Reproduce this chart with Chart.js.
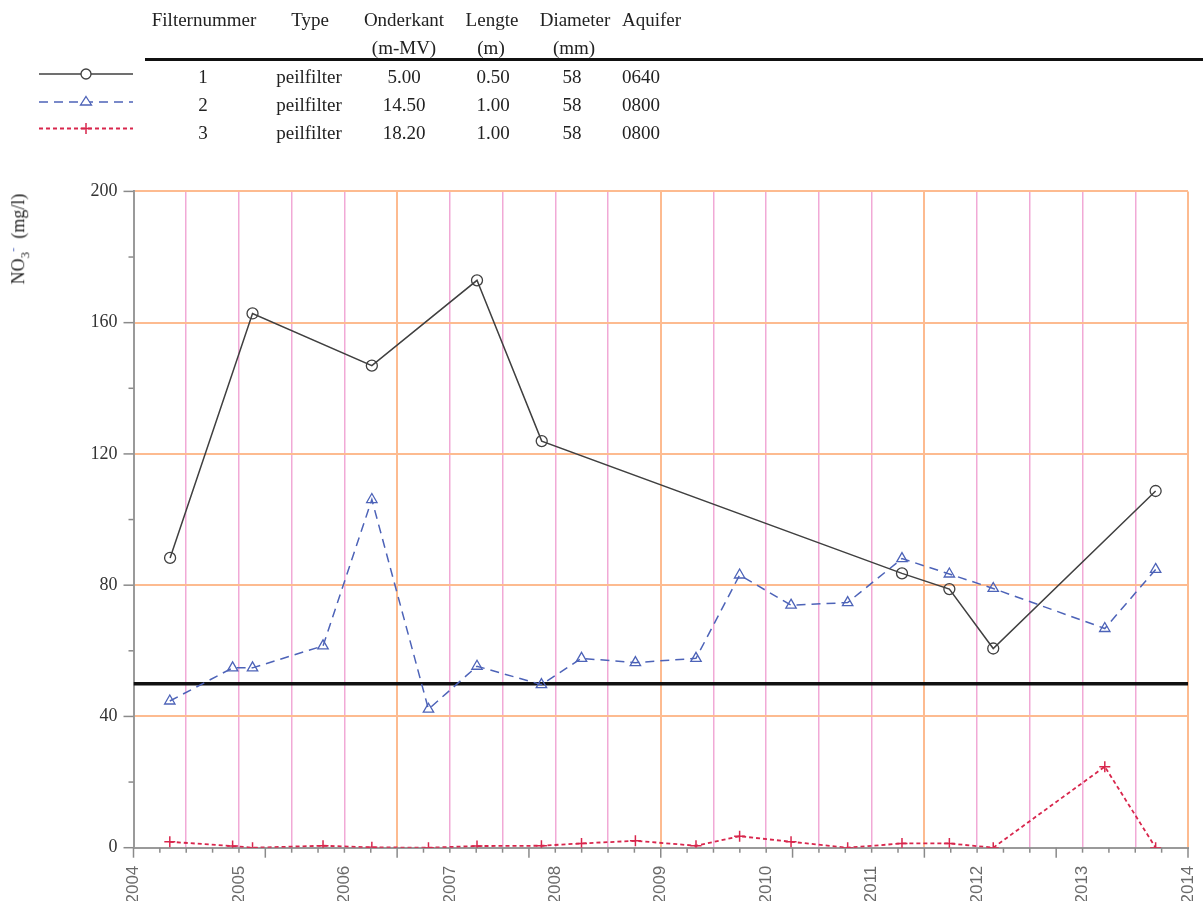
<!DOCTYPE html>
<html>
<head>
<meta charset="utf-8">
<title>NO3 peilfilters</title>
<script src="https://cdn.jsdelivr.net/npm/chart.js@4.4.1/dist/chart.umd.min.js"></script>
<style>
  html, body { margin: 0; padding: 0; background: #fff; }
  #wrap { position: relative; width: 1203px; height: 901px; overflow: hidden; }
  #chart { position: absolute; left: 0; top: 0; }
  .t { position: absolute; font-family: "Liberation Serif", "Times New Roman", serif; font-size: 19px;
       color: #222; white-space: nowrap; line-height: 20px; transform: translateX(-50%); }
  .t.left { transform: none; }
  #rule { position: absolute; left: 145px; top: 58px; width: 1058px; height: 3px; background: #111; }
  #ytitle { position: absolute; left: 19px; top: 239px; font-family: "Liberation Serif", "Times New Roman", serif;
            font-size: 18px; color: #222; white-space: nowrap; transform: translate(-50%, -50%) rotate(-90deg); }
  #ytitle sub { font-size: 13px; }
  #ytitle sup { color: #5a6fc0; font-size: 13px; }
  #legend { position: absolute; left: 0; top: 0; }
</style>
</head>
<body>
<div id="wrap">
  <canvas id="chart" width="1203" height="901"></canvas>
  <svg id="legend" width="140" height="150"></svg>
  <div id="rule"></div>
  <div id="ytitle">NO<sub>3</sub><sup>-</sup>&nbsp;&nbsp;(mg/l)</div>
</div>
<script>
// Sampling dates per filter
const datesFilter1 = ['2004-05-07', '2005-02-17', '2006-04-06', '2007-04-05', '2007-11-15',
                      '2011-04-16', '2011-09-27', '2012-02-26', '2013-09-11'];
const datesFilter23 = ['2004-05-06', '2004-12-10', '2005-02-17', '2005-10-19', '2006-04-06',
                       '2006-10-19', '2007-04-05', '2007-11-14', '2008-04-01', '2008-10-05',
                       '2009-05-03', '2009-10-01', '2010-03-28', '2010-10-10', '2011-04-16',
                       '2011-09-27', '2012-02-26', '2013-03-19', '2013-09-11'];

// Nitrate (mg/l) per filter
const no3Filter1 = [88.3, 162.8, 146.9, 172.9, 123.9, 83.6, 78.8, 60.7, 108.7];
const no3Filter2 = [44.7, 54.8, 54.8, 61.5, 106.1, 42.2, 55.3, 49.7, 57.7, 56.4,
                    57.7, 83.1, 73.9, 74.7, 88.1, 83.4, 79.0, 66.8, 84.8];
const no3Filter3 = [1.8, 0.5, 0.0, 0.6, 0.1, 0.0, 0.5, 0.6, 1.3, 2.1,
                    0.6, 3.5, 1.8, 0.0, 1.3, 1.3, 0.0, 24.7, 0.0];

// Nitrate standard
const no3Norm = 50;

// Axis settings
const yearLabels = [2004, 2005, 2006, 2007, 2008, 2009, 2010, 2011, 2012, 2013, 2014];
const yTickLabels = [0, 40, 80, 120, 160, 200];

// Filter table
const tableHeads = [
  { text: 'Filternummer', x: 204 }, { text: 'Type', x: 310 }, { text: 'Onderkant', x: 404 },
  { text: 'Lengte', x: 492 }, { text: 'Diameter', x: 575 }, { text: 'Aquifer', x: 622, left: true }
];
const tableUnits = [{ text: '(m-MV)', x: 404 }, { text: '(m)', x: 491 }, { text: '(mm)', x: 574 }];
const filterNr = ['1', '2', '3'];
const filterType = ['peilfilter', 'peilfilter', 'peilfilter'];
const filterBottom = ['5.00', '14.50', '18.20'];
const filterLength = ['0.50', '1.00', '1.00'];
const filterDiameter = ['58', '58', '58'];
const filterAquifer = ['0640', '0800', '0800'];

const colors = { f1: '#404040', f2: '#4d63b8', f3: '#d8264c',
                 orange: '#fdbb90', pink: '#f1a9d6', axis: '#9a9a9a' };

function toYear(s) {
  const d = new Date(s + 'T00:00:00Z');
  const y = d.getUTCFullYear();
  const start = Date.UTC(y, 0, 1), end = Date.UTC(y + 1, 0, 1);
  return y + (d.getTime() - start) / (end - start);
}
const pts = (dates, vals) => dates.map((d, i) => ({ x: toYear(d), y: vals[i] }));

// ---- table and legend text ----
const wrap = document.getElementById('wrap');
function addText(text, x, y, left) {
  const el = document.createElement('div');
  el.className = 't' + (left ? ' left' : '');
  el.textContent = text;
  el.style.left = x + 'px';
  el.style.top = (y - 10) + 'px';
  wrap.appendChild(el);
}
tableHeads.forEach(h => addText(h.text, h.x, 20, h.left));
tableUnits.forEach(h => addText(h.text, h.x, 48));
const rowY = [77, 105, 133];
filterNr.forEach((n, i) => {
  addText(n, 203, rowY[i]);
  addText(filterType[i], 309, rowY[i]);
  addText(filterBottom[i], 404, rowY[i]);
  addText(filterLength[i], 493, rowY[i]);
  addText(filterDiameter[i], 572, rowY[i]);
  addText(filterAquifer[i], 622, rowY[i], true);
});

// legend samples
const svg = document.getElementById('legend');
svg.innerHTML =
  `<line x1="39" y1="74" x2="133" y2="74" stroke="${colors.f1}" stroke-width="1.5"/>` +
  `<circle cx="86" cy="74" r="5" fill="#fff" stroke="${colors.f1}" stroke-width="1.3"/>` +
  `<line x1="39" y1="102" x2="133" y2="102" stroke="${colors.f2}" stroke-width="1.5" stroke-dasharray="9 6"/>` +
  `<path d="M86 96.5 L91.5 105 L80.5 105 Z" fill="#fff" stroke="${colors.f2}" stroke-width="1.3"/>` +
  `<line x1="39" y1="128.5" x2="133" y2="128.5" stroke="${colors.f3}" stroke-width="1.8" stroke-dasharray="4 3"/>` +
  `<path d="M80.5 128.5 H91.5 M86 123 V134" stroke="${colors.f3}" stroke-width="1.5"/>`;

// ---- axis tick marks (major/minor lengths differ) ----
const near = (a, step) => Math.abs(a / step - Math.round(a / step)) < 1e-6;
const axisTicks = {
  id: 'axisTicks',
  afterDraw(chart) {
    const { ctx, chartArea, scales } = chart;
    ctx.save();
    ctx.strokeStyle = '#8a8a8a';
    ctx.lineWidth = 1.5;
    scales.x.ticks.forEach(t => {
      const px = scales.x.getPixelForValue(t.value);
      const len = near(t.value - 2004, 1.25) ? 10 : 5;
      ctx.beginPath();
      ctx.moveTo(px, chartArea.bottom);
      ctx.lineTo(px, chartArea.bottom + len);
      ctx.stroke();
    });
    scales.y.ticks.forEach(t => {
      const py = scales.y.getPixelForValue(t.value);
      const len = yTickLabels.includes(t.value) ? 10 : 5;
      ctx.beginPath();
      ctx.moveTo(chartArea.left - len, py);
      ctx.lineTo(chartArea.left, py);
      ctx.stroke();
    });
    ctx.restore();
  }
};

new Chart(document.getElementById('chart'), {
  type: 'line',
  data: {
    datasets: [
      {
        label: 'Filter 1',
        data: pts(datesFilter1, no3Filter1),
        borderColor: colors.f1, borderWidth: 1.5,
        pointStyle: 'circle', pointRadius: 5.5, pointBorderWidth: 1.3,
        pointBorderColor: colors.f1, pointBackgroundColor: 'rgba(255,255,255,0)'
      },
      {
        label: 'Filter 2',
        data: pts(datesFilter23, no3Filter2),
        borderColor: colors.f2, borderWidth: 1.5, borderDash: [9, 6],
        pointStyle: 'triangle', pointRadius: 6, pointBorderWidth: 1.3,
        pointBorderColor: colors.f2, pointBackgroundColor: 'rgba(255,255,255,0)'
      },
      {
        label: 'Filter 3',
        data: pts(datesFilter23, no3Filter3),
        borderColor: colors.f3, borderWidth: 1.8, borderDash: [4, 3],
        pointStyle: 'cross', pointRadius: 5.5, pointBorderWidth: 1.5,
        pointBorderColor: colors.f3
      },
      {
        label: 'Norm',
        data: [{ x: yearLabels[0], y: no3Norm }, { x: yearLabels[yearLabels.length - 1], y: no3Norm }],
        borderColor: '#111', borderWidth: 3.5, pointRadius: 0
      }
    ]
  },
  options: {
    responsive: false,
    animation: false,
    devicePixelRatio: 1,
    layout: { padding: { left: 0, top: 191.4, right: 15, bottom: 0 } },
    plugins: { legend: { display: false }, tooltip: { enabled: false } },
    scales: {
      x: {
        type: 'linear',
        min: yearLabels[0], max: yearLabels[yearLabels.length - 1],
        afterBuildTicks: (scale) => {
          const t = [];
          for (let v = scale.min; v <= scale.max + 1e-9; v += 0.25) t.push({ value: v });
          scale.ticks = t;
        },
        afterFit: (scale) => {
          scale.height = 901 - 847.7;
          scale.paddingLeft = 0;
          scale.paddingRight = 0;
        },
        border: { color: colors.axis, width: 2 },
        grid: {
          drawTicks: false,
          color: (c) => {
            const d = c.tick.value - 2004;
            if (d <= 1e-6) return 'rgba(0,0,0,0)';
            if (near(d, 2.5)) return colors.orange;
            if (near(d, 0.5)) return colors.pink;
            return 'rgba(0,0,0,0)';
          },
          lineWidth: (c) => near(c.tick.value - 2004, 2.5) ? 2 : 1.5
        },
        ticks: {
          autoSkip: false, minRotation: 90, maxRotation: 90, padding: 18,
          color: '#6a6a6a',
          font: { family: '"Liberation Sans", Arial, sans-serif', size: 17 },
          callback: (v) => yearLabels.includes(v) ? String(v) : ''
        }
      },
      y: {
        min: yTickLabels[0], max: yTickLabels[yTickLabels.length - 1],
        afterFit: (scale) => { scale.width = 133.5; scale.paddingTop = 0; scale.paddingBottom = 0; },
        border: { color: colors.axis, width: 2 },
        grid: {
          drawTicks: false,
          color: (c) => (c.tick.value > 0 && yTickLabels.includes(c.tick.value)) ? colors.orange : 'rgba(0,0,0,0)',
          lineWidth: 2
        },
        ticks: {
          stepSize: 20, padding: 16,
          color: '#333',
          font: { family: '"Liberation Serif", "Times New Roman", serif', size: 18 },
          callback: (v) => yTickLabels.includes(v) ? String(v) : ''
        }
      }
    }
  },
  plugins: [axisTicks]
});
</script>
</body>
</html>
